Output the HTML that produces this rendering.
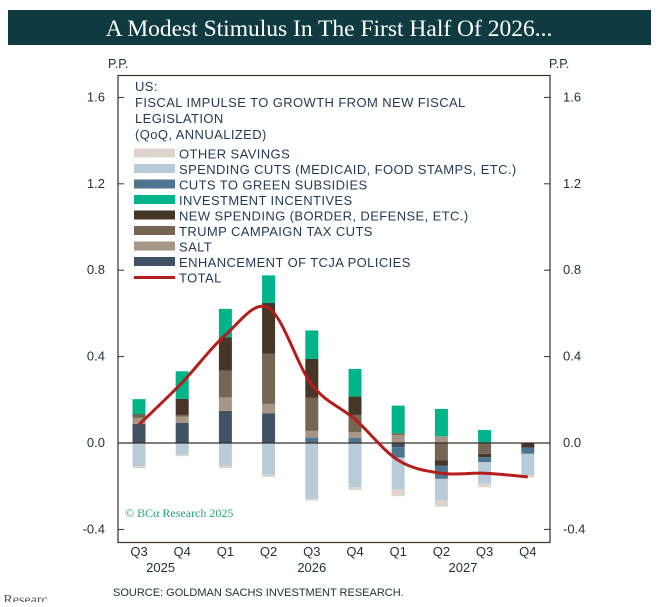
<!DOCTYPE html>
<html><head><meta charset="utf-8"><style>
body{margin:0;background:#fff;width:658px;height:602px;overflow:hidden;font-family:"Liberation Sans",sans-serif}
</style></head><body>
<svg width="658" height="602" xmlns="http://www.w3.org/2000/svg">
<rect x="8" y="10" width="643" height="35" fill="#0f3a42"/>
<text x="329" y="36" text-anchor="middle" fill="#fff" font-family="Liberation Serif,serif" font-size="23.5">A Modest Stimulus In The First Half Of 2026...</text>
<text x="108" y="68" fill="#1f2f3c" font-size="12.5">P.P.</text>
<text x="549" y="68" fill="#1f2f3c" font-size="12.5">P.P.</text>
<rect x="118" y="75.5" width="432" height="467" fill="none" stroke="#3a2e26" stroke-width="1.2"/>
<g id="ticks"></g>
<g id="bars"></g>
<line x1="118" x2="550" id="zero" stroke="#3a2e26" stroke-width="1.2"/>
<path id="total" fill="none" stroke="#b51c1c" stroke-width="3"/>
<g id="legend" font-size="13" letter-spacing="0.4" fill="#1f3a55"></g>
<text x="125" y="517" fill="#2aa37a" font-family="Liberation Serif,serif" font-size="12">© BCα Research 2025</text>
<g id="xl" font-size="13" fill="#1f2f3c"></g>
<text x="113" y="596" fill="#1f2f3c" font-size="11">SOURCE: GOLDMAN SACHS INVESTMENT RESEARCH.</text>
<text x="-4" y="604" fill="#555" font-family="Liberation Serif,serif" font-size="14">/ Researc</text>
</svg>
<script>
const quarters=["Q3","Q4","Q1","Q2","Q3","Q4","Q1","Q2","Q3","Q4"];
const years=["2025","2026","2027"];
const yTicks=[-0.4,0,0.4,0.8,1.2,1.6];
const seriesNames=["ENHANCEMENT OF TCJA POLICIES","SALT","TRUMP CAMPAIGN TAX CUTS","NEW SPENDING (BORDER, DEFENSE, ETC.)","INVESTMENT INCENTIVES","CUTS TO GREEN SUBSIDIES","SPENDING CUTS (MEDICAID, FOOD STAMPS, ETC.)","OTHER SAVINGS"];
const colors=["#3f5364","#a69686","#776553","#463628","#00b48a","#4d7590","#b7ccd8","#ddd5cd"];
const enhancement=[0.088,0.094,0.149,0.138,0.0,0.0,-0.02,0,0,0];
const salt=[0.028,0.028,0.062,0.043,0.031,0.028,0.037,0.031,0,0];
const trumpTax=[0.012,0.008,0.124,0.233,0.153,0.079,0.008,-0.081,-0.05,0];
const newSpending=[0.005,0.075,0.155,0.234,0.18,0.085,0,-0.023,-0.016,-0.022];
const investment=[0.07,0.127,0.131,0.128,0.132,0.128,0.128,0.127,0.06,0];
const greenSubsidies=[0,0,0,0,0.025,0.023,-0.048,-0.062,-0.023,-0.028];
const spendingCuts=[-0.107,-0.053,-0.107,-0.147,-0.257,-0.204,-0.147,-0.098,-0.1,-0.099];
const otherSavings=[-0.01,-0.008,-0.01,-0.01,-0.01,-0.014,-0.031,-0.031,-0.016,-0.011];
const total=[0.085,0.28,0.5,0.625,0.27,0.11,-0.08,-0.14,-0.14,-0.157];
const series=[enhancement,salt,trumpTax,newSpending,investment,greenSubsidies,spendingCuts,otherSavings];
const posOrder=[0,5,1,2,3,4,6,7];
const negOrder=[2,3,0,5,1,4,6,7];
const NS="http://www.w3.org/2000/svg";
const y=v=>443-v*216;
const x=i=>139+i*43.2;
function mk(t,a,p){const e=document.createElementNS(NS,t);for(const k in a)e.setAttribute(k,a[k]);p.appendChild(e);return e;}
document.getElementById('zero').setAttribute('y1',y(0));
document.getElementById('zero').setAttribute('y2',y(0));
const tg=document.getElementById('ticks');
yTicks.forEach(v=>{
 const l=mk('line',{x1:118,x2:124,y1:y(v),y2:y(v),stroke:'#3a2e26'},tg);
 
 
 const r=mk('line',{x1:544,x2:550,y1:y(v),y2:y(v),stroke:'#3a2e26'},tg);
 
 
 const t=mk('text',{x:105,y:y(v)+4,'text-anchor':'end','font-size':13,fill:'#1f2f3c'},tg);t.textContent=v.toFixed(1);
 
 
 const t2=mk('text',{x:563,y:y(v)+4,'font-size':13,fill:'#1f2f3c'},tg);t2.textContent=v.toFixed(1);
 
 
});
const bg=document.getElementById('bars');
quarters.forEach((q,i)=>{
 let pos=0,neg=0;
 posOrder.forEach(k=>{
  const v=series[k][i];if(!(v>0))return;
  const y0=pos;pos+=v;
  const r=mk('rect',{x:x(i)-6.5,width:13,y:y(pos),height:y(y0)-y(pos),fill:colors[k]},bg);
  
  
 });
 negOrder.forEach(k=>{
  const v=series[k][i];if(!(v<0))return;
  const y0=neg;neg+=v;
  const r=mk('rect',{x:x(i)-6.5,width:13,y:y(y0),height:y(neg)-y(y0),fill:colors[k]},bg);
  
  
 });
 const t=mk('text',{x:x(i),y:556,'text-anchor':'middle'},document.getElementById('xl'));t.textContent=q;
 
 
});
[[0.5,0],[4,1],[7.5,2]].forEach(([p,k])=>{
 const t=mk('text',{x:x(p),y:572,'text-anchor':'middle'},document.getElementById('xl'));t.textContent=years[k];
 
 
});
const pts=total.map((v,i)=>[x(i),y(v)]);
let d=`M${pts[0][0]},${pts[0][1]}`;
for(let i=0;i<pts.length-1;i++){
 const p0=pts[Math.max(0,i-1)],p1=pts[i],p2=pts[i+1],p3=pts[Math.min(pts.length-1,i+2)];
 d+=` C${p1[0]+(p2[0]-p0[0])/6},${p1[1]+(p2[1]-p0[1])/6} ${p2[0]-(p3[0]-p1[0])/6},${p2[1]-(p3[1]-p1[1])/6} ${p2[0]},${p2[1]}`;
}
document.getElementById('total').setAttribute('d',d);
const lg=document.getElementById('legend');
["US:","FISCAL IMPULSE TO GROWTH FROM NEW FISCAL","LEGISLATION","(QoQ, ANNUALIZED)"].forEach((s,i)=>{
 const t=mk('text',{x:135,y:91+i*16},lg);t.textContent=s;
 
 
});
const order=[7,6,5,4,3,2,1,0];
order.forEach((k,j)=>{
 const yy=153.5+j*15.5;
 const r=mk('rect',{x:134,y:yy-5,width:41,height:9,fill:colors[k]},lg);
 
 
 const t=mk('text',{x:179,y:yy+5},lg);t.textContent=seriesNames[k];
 
 
});
const ly=153.5+8*15.5;
const ll=mk('line',{x1:134,x2:175,y1:ly,y2:ly,stroke:'#b51c1c','stroke-width':3},lg);


const lt=mk('text',{x:179,y:ly+5},lg);lt.textContent="TOTAL";


</script>
</body></html>
